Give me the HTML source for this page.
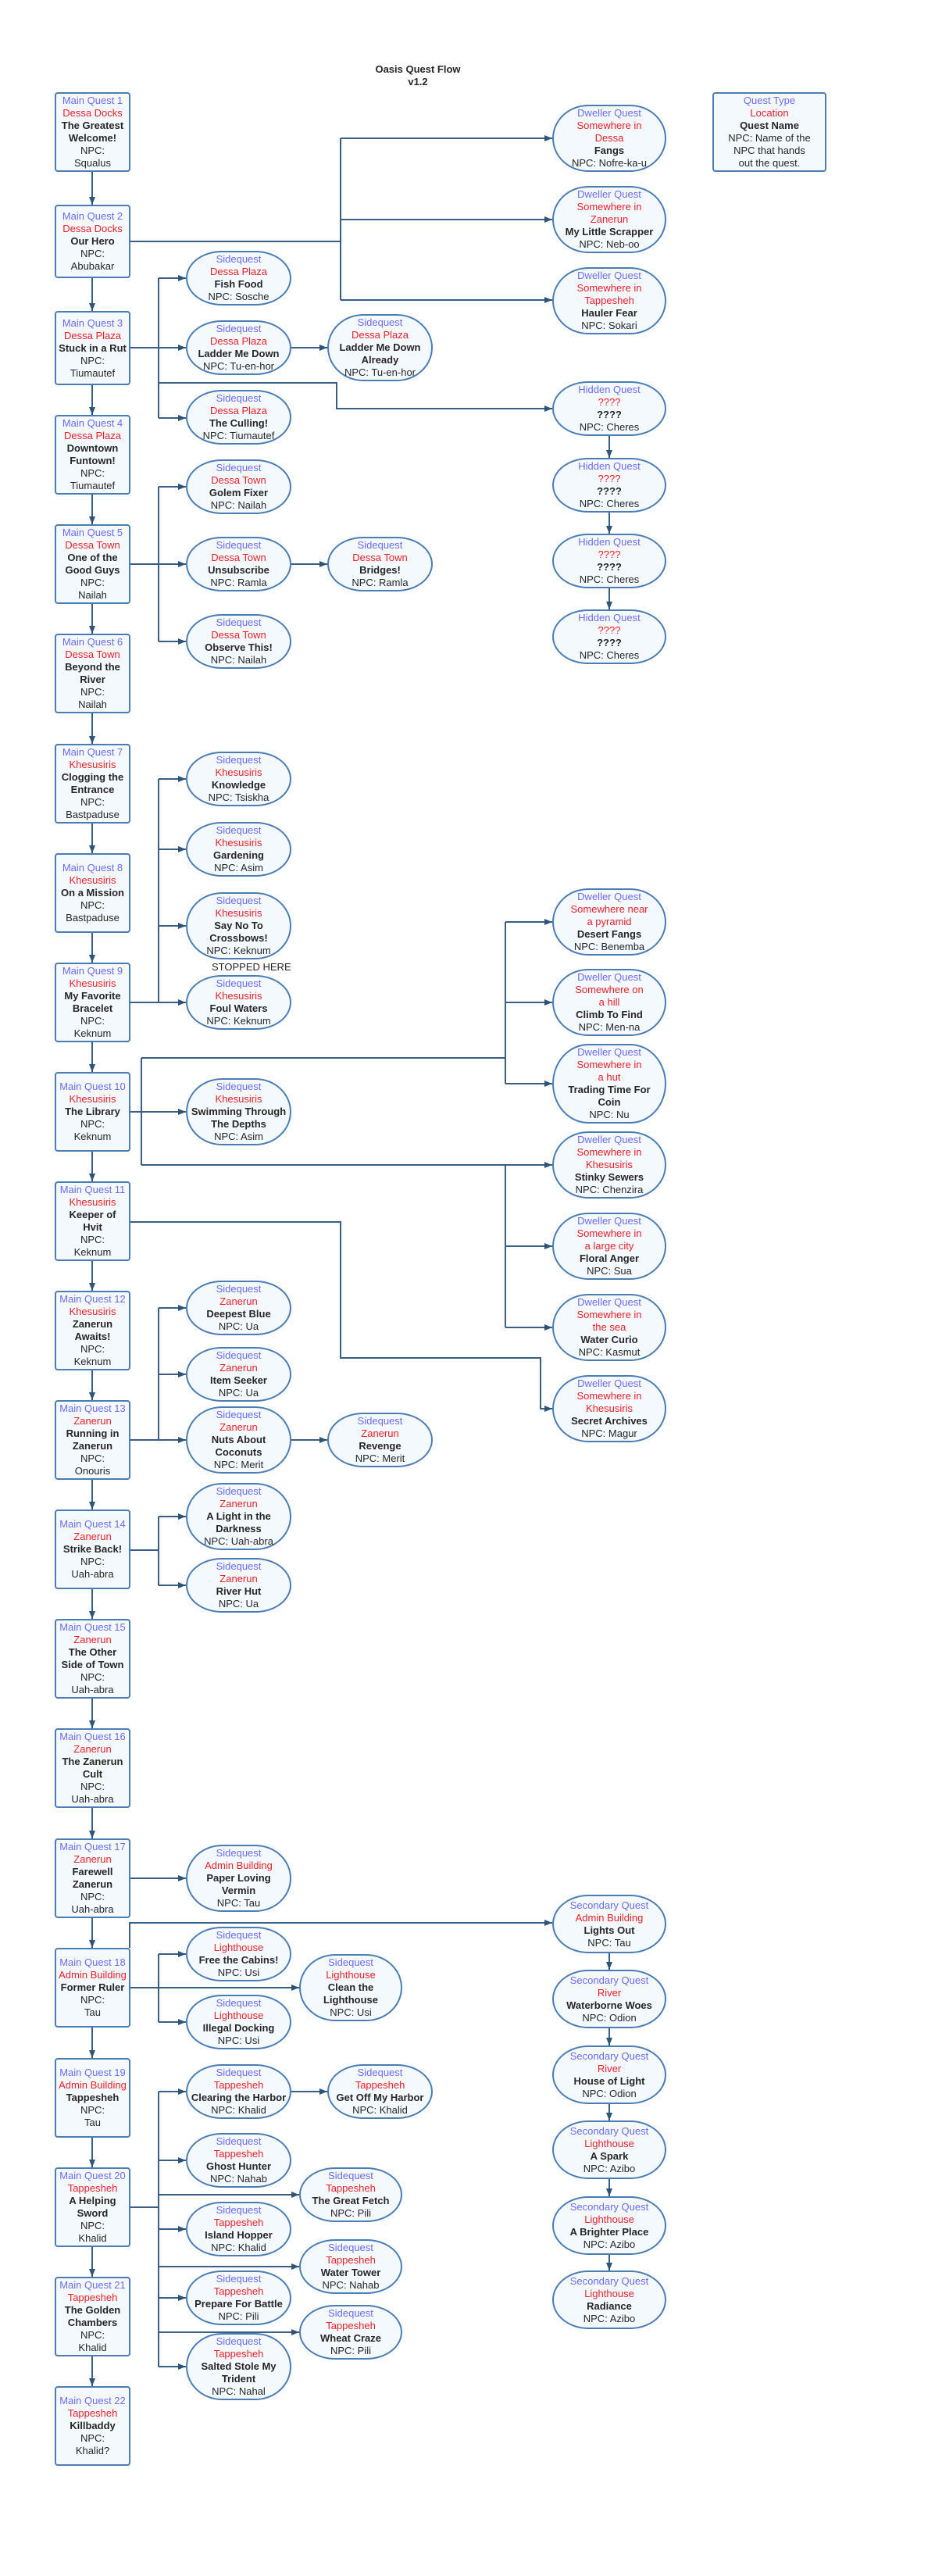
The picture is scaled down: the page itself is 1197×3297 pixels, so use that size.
<!DOCTYPE html>
<html><head><meta charset="utf-8"><style>
html,body{margin:0;padding:0;background:#fff;}
body{width:1197px;height:3297px;position:relative;overflow:hidden;font-family:"Liberation Sans",Arial,sans-serif;font-size:13px;line-height:16px;color:#262626;}
.n{position:absolute;box-sizing:border-box;border:2px solid #4b7db5;background:#f4f9fe;display:flex;flex-direction:column;justify-content:center;align-items:center;text-align:center;white-space:nowrap;}
.m{left:70px;width:97px;border-radius:4px;}
.e{border-radius:46px/50%;}
.c1{left:238px;width:135px;}
.c2{left:419px;width:135px;}
.c15{left:383px;width:132px;}
.cr{left:707px;width:146px;}
.b{color:#6b6bff;}
.r{color:#e8202a;}
.k{font-weight:bold;color:#262626;}
svg{position:absolute;left:0;top:0;}
.t{position:absolute;text-align:center;font-weight:bold;}
</style></head><body>
<svg width="1197" height="3297" viewBox="0 0 1197 3297">
<defs><marker id="a" markerWidth="10" markerHeight="8" refX="10" refY="4" orient="auto" markerUnits="userSpaceOnUse"><path d="M0,0 L10,4 L0,8 z" fill="#2e5478"/></marker></defs>
<g fill="none" stroke="#3a5e84" stroke-width="2">
<!-- main verticals -->
<path d="M118,220V262" marker-end="url(#a)"/>
<path d="M118,356V398" marker-end="url(#a)"/>
<path d="M118,493V531" marker-end="url(#a)"/>
<path d="M118,633V671" marker-end="url(#a)"/>
<path d="M118,773V811" marker-end="url(#a)"/>
<path d="M118,913V952" marker-end="url(#a)"/>
<path d="M118,1054V1092" marker-end="url(#a)"/>
<path d="M118,1194V1232" marker-end="url(#a)"/>
<path d="M118,1334V1372" marker-end="url(#a)"/>
<path d="M118,1474V1512" marker-end="url(#a)"/>
<path d="M118,1614V1652" marker-end="url(#a)"/>
<path d="M118,1754V1792" marker-end="url(#a)"/>
<path d="M118,1894V1932" marker-end="url(#a)"/>
<path d="M118,2034V2072" marker-end="url(#a)"/>
<path d="M118,2174V2212" marker-end="url(#a)"/>
<path d="M118,2314V2353" marker-end="url(#a)"/>
<path d="M118,2455V2493" marker-end="url(#a)"/>
<path d="M118,2595V2634" marker-end="url(#a)"/>
<path d="M118,2736V2774" marker-end="url(#a)"/>
<path d="M118,2876V2914" marker-end="url(#a)"/>
<path d="M118,3016V3054" marker-end="url(#a)"/>
<!-- MQ2 -->
<path d="M167,309H436"/><path d="M436,177V384"/>
<path d="M436,177H707" marker-end="url(#a)"/>
<path d="M436,281H707" marker-end="url(#a)"/>
<path d="M436,384H707" marker-end="url(#a)"/>
<!-- MQ3 -->
<path d="M167,445H203"/><path d="M203,356V535"/>
<path d="M203,356H238" marker-end="url(#a)"/>
<path d="M203,445H238" marker-end="url(#a)"/>
<path d="M203,535H238" marker-end="url(#a)"/>
<path d="M373,445H419" marker-end="url(#a)"/>
<path d="M203,490H431V523H707" marker-end="url(#a)"/>
<!-- hidden chain -->
<path d="M780,558V586" marker-end="url(#a)"/>
<path d="M780,656V683" marker-end="url(#a)"/>
<path d="M780,753V780" marker-end="url(#a)"/>
<!-- MQ5 -->
<path d="M167,722H203"/><path d="M203,623V821"/>
<path d="M203,623H238" marker-end="url(#a)"/>
<path d="M203,722H238" marker-end="url(#a)"/>
<path d="M203,821H238" marker-end="url(#a)"/>
<path d="M373,722H419" marker-end="url(#a)"/>
<!-- MQ9 -->
<path d="M167,1283H203"/><path d="M203,997V1283"/>
<path d="M203,997H238" marker-end="url(#a)"/>
<path d="M203,1087H238" marker-end="url(#a)"/>
<path d="M203,1185H238" marker-end="url(#a)"/>
<path d="M203,1283H238" marker-end="url(#a)"/>
<!-- MQ10 -->
<path d="M167,1423H181"/><path d="M181,1354V1491"/>
<path d="M181,1423H238" marker-end="url(#a)"/>
<path d="M181,1354H647"/><path d="M647,1180V1387"/>
<path d="M647,1180H707" marker-end="url(#a)"/>
<path d="M647,1283H707" marker-end="url(#a)"/>
<path d="M647,1387H707" marker-end="url(#a)"/>
<path d="M181,1491H707" marker-end="url(#a)"/>
<path d="M647,1491V1699"/>
<path d="M647,1595H707" marker-end="url(#a)"/>
<path d="M647,1699H707" marker-end="url(#a)"/>
<!-- MQ11 -->
<path d="M167,1564H436V1738H692V1803H707" marker-end="url(#a)"/>
<!-- MQ13 -->
<path d="M167,1843H238" marker-end="url(#a)"/><path d="M203,1674V1843"/>
<path d="M203,1674H238" marker-end="url(#a)"/>
<path d="M203,1759H238" marker-end="url(#a)"/>
<path d="M373,1843H419" marker-end="url(#a)"/>
<!-- MQ14 -->
<path d="M167,1984H203"/><path d="M203,1941V2029"/>
<path d="M203,1941H238" marker-end="url(#a)"/>
<path d="M203,2029H238" marker-end="url(#a)"/>
<!-- MQ17 -->
<path d="M167,2404H238" marker-end="url(#a)"/>
<!-- MQ18 -->
<path d="M166,2493V2461H707" marker-end="url(#a)"/>
<path d="M167,2544H383" marker-end="url(#a)"/>
<path d="M203,2501V2588"/>
<path d="M203,2501H238" marker-end="url(#a)"/>
<path d="M203,2588H238" marker-end="url(#a)"/>
<!-- secondary chain -->
<path d="M780,2500V2521" marker-end="url(#a)"/>
<path d="M780,2596V2618" marker-end="url(#a)"/>
<path d="M780,2693V2714" marker-end="url(#a)"/>
<path d="M780,2789V2811" marker-end="url(#a)"/>
<path d="M780,2886V2906" marker-end="url(#a)"/>
<!-- MQ20 -->
<path d="M167,2825H203"/><path d="M203,2677V3029"/>
<path d="M203,2677H238" marker-end="url(#a)"/>
<path d="M203,2765H238" marker-end="url(#a)"/>
<path d="M203,2853H238" marker-end="url(#a)"/>
<path d="M203,2941H238" marker-end="url(#a)"/>
<path d="M203,3029H238" marker-end="url(#a)"/>
<path d="M203,2809H383" marker-end="url(#a)"/>
<path d="M203,2901H383" marker-end="url(#a)"/>
<path d="M203,2985H383" marker-end="url(#a)"/>
<path d="M373,2677H419" marker-end="url(#a)"/>
</g></svg>

<div class="t" style="left:435px;top:81px;width:200px;">Oasis Quest Flow<br>v1.2</div>
<div style="position:absolute;left:271px;top:1230px;">STOPPED HERE</div>

<div class="n" style="left:912px;top:118px;width:146px;height:102px;border-radius:4px;"><span class="b">Quest Type</span><span class="r">Location</span><span class="k">Quest Name</span><span>NPC: Name of the</span><span>NPC that hands</span><span>out the quest.</span></div>

<!-- main quests -->
<div class="n m" style="top:118px;height:102px;"><span class="b">Main Quest 1</span><span class="r">Dessa Docks</span><span class="k">The Greatest</span><span class="k">Welcome!</span><span>NPC:</span><span>Squalus</span></div>
<div class="n m" style="top:262px;height:94px;"><span class="b">Main Quest 2</span><span class="r">Dessa Docks</span><span class="k">Our Hero</span><span>NPC:</span><span>Abubakar</span></div>
<div class="n m" style="top:398px;height:95px;"><span class="b">Main Quest 3</span><span class="r">Dessa Plaza</span><span class="k">Stuck in a Rut</span><span>NPC:</span><span>Tiumautef</span></div>
<div class="n m" style="top:531px;height:102px;"><span class="b">Main Quest 4</span><span class="r">Dessa Plaza</span><span class="k">Downtown</span><span class="k">Funtown!</span><span>NPC:</span><span>Tiumautef</span></div>
<div class="n m" style="top:671px;height:102px;"><span class="b">Main Quest 5</span><span class="r">Dessa Town</span><span class="k">One of the</span><span class="k">Good Guys</span><span>NPC:</span><span>Nailah</span></div>
<div class="n m" style="top:811px;height:102px;"><span class="b">Main Quest 6</span><span class="r">Dessa Town</span><span class="k">Beyond the</span><span class="k">River</span><span>NPC:</span><span>Nailah</span></div>
<div class="n m" style="top:952px;height:102px;"><span class="b">Main Quest 7</span><span class="r">Khesusiris</span><span class="k">Clogging the</span><span class="k">Entrance</span><span>NPC:</span><span>Bastpaduse</span></div>
<div class="n m" style="top:1092px;height:102px;"><span class="b">Main Quest 8</span><span class="r">Khesusiris</span><span class="k">On a Mission</span><span>NPC:</span><span>Bastpaduse</span></div>
<div class="n m" style="top:1232px;height:102px;"><span class="b">Main Quest 9</span><span class="r">Khesusiris</span><span class="k">My Favorite</span><span class="k">Bracelet</span><span>NPC:</span><span>Keknum</span></div>
<div class="n m" style="top:1372px;height:102px;"><span class="b">Main Quest 10</span><span class="r">Khesusiris</span><span class="k">The Library</span><span>NPC:</span><span>Keknum</span></div>
<div class="n m" style="top:1512px;height:102px;"><span class="b">Main Quest 11</span><span class="r">Khesusiris</span><span class="k">Keeper of</span><span class="k">Hvit</span><span>NPC:</span><span>Keknum</span></div>
<div class="n m" style="top:1652px;height:102px;"><span class="b">Main Quest 12</span><span class="r">Khesusiris</span><span class="k">Zanerun</span><span class="k">Awaits!</span><span>NPC:</span><span>Keknum</span></div>
<div class="n m" style="top:1792px;height:102px;"><span class="b">Main Quest 13</span><span class="r">Zanerun</span><span class="k">Running in</span><span class="k">Zanerun</span><span>NPC:</span><span>Onouris</span></div>
<div class="n m" style="top:1932px;height:102px;"><span class="b">Main Quest 14</span><span class="r">Zanerun</span><span class="k">Strike Back!</span><span>NPC:</span><span>Uah-abra</span></div>
<div class="n m" style="top:2072px;height:102px;"><span class="b">Main Quest 15</span><span class="r">Zanerun</span><span class="k">The Other</span><span class="k">Side of Town</span><span>NPC:</span><span>Uah-abra</span></div>
<div class="n m" style="top:2212px;height:102px;"><span class="b">Main Quest 16</span><span class="r">Zanerun</span><span class="k">The Zanerun</span><span class="k">Cult</span><span>NPC:</span><span>Uah-abra</span></div>
<div class="n m" style="top:2353px;height:102px;"><span class="b">Main Quest 17</span><span class="r">Zanerun</span><span class="k">Farewell</span><span class="k">Zanerun</span><span>NPC:</span><span>Uah-abra</span></div>
<div class="n m" style="top:2493px;height:102px;"><span class="b">Main Quest 18</span><span class="r">Admin Building</span><span class="k">Former Ruler</span><span>NPC:</span><span>Tau</span></div>
<div class="n m" style="top:2634px;height:102px;"><span class="b">Main Quest 19</span><span class="r">Admin Building</span><span class="k">Tappesheh</span><span>NPC:</span><span>Tau</span></div>
<div class="n m" style="top:2774px;height:102px;"><span class="b">Main Quest 20</span><span class="r">Tappesheh</span><span class="k">A Helping</span><span class="k">Sword</span><span>NPC:</span><span>Khalid</span></div>
<div class="n m" style="top:2914px;height:102px;"><span class="b">Main Quest 21</span><span class="r">Tappesheh</span><span class="k">The Golden</span><span class="k">Chambers</span><span>NPC:</span><span>Khalid</span></div>
<div class="n m" style="top:3054px;height:102px;"><span class="b">Main Quest 22</span><span class="r">Tappesheh</span><span class="k">Killbaddy</span><span>NPC:</span><span>Khalid?</span></div>

<!-- sidequests col1 -->
<div class="n e c1" style="top:321px;height:70px;"><span class="b">Sidequest</span><span class="r">Dessa Plaza</span><span class="k">Fish Food</span><span>NPC: Sosche</span></div>
<div class="n e c1" style="top:410px;height:70px;"><span class="b">Sidequest</span><span class="r">Dessa Plaza</span><span class="k">Ladder Me Down</span><span>NPC: Tu-en-hor</span></div>
<div class="n e c1" style="top:499px;height:70px;"><span class="b">Sidequest</span><span class="r">Dessa Plaza</span><span class="k">The Culling!</span><span>NPC: Tiumautef</span></div>
<div class="n e c1" style="top:588px;height:70px;"><span class="b">Sidequest</span><span class="r">Dessa Town</span><span class="k">Golem Fixer</span><span>NPC: Nailah</span></div>
<div class="n e c1" style="top:687px;height:70px;"><span class="b">Sidequest</span><span class="r">Dessa Town</span><span class="k">Unsubscribe</span><span>NPC: Ramla</span></div>
<div class="n e c1" style="top:786px;height:70px;"><span class="b">Sidequest</span><span class="r">Dessa Town</span><span class="k">Observe This!</span><span>NPC: Nailah</span></div>
<div class="n e c1" style="top:962px;height:70px;"><span class="b">Sidequest</span><span class="r">Khesusiris</span><span class="k">Knowledge</span><span>NPC: Tsiskha</span></div>
<div class="n e c1" style="top:1052px;height:70px;"><span class="b">Sidequest</span><span class="r">Khesusiris</span><span class="k">Gardening</span><span>NPC: Asim</span></div>
<div class="n e c1" style="top:1142px;height:86px;"><span class="b">Sidequest</span><span class="r">Khesusiris</span><span class="k">Say No To</span><span class="k">Crossbows!</span><span>NPC: Keknum</span></div>
<div class="n e c1" style="top:1248px;height:70px;"><span class="b">Sidequest</span><span class="r">Khesusiris</span><span class="k">Foul Waters</span><span>NPC: Keknum</span></div>
<div class="n e c1" style="top:1380px;height:86px;"><span class="b">Sidequest</span><span class="r">Khesusiris</span><span class="k">Swimming Through</span><span class="k">The Depths</span><span>NPC: Asim</span></div>
<div class="n e c1" style="top:1639px;height:70px;"><span class="b">Sidequest</span><span class="r">Zanerun</span><span class="k">Deepest Blue</span><span>NPC: Ua</span></div>
<div class="n e c1" style="top:1724px;height:70px;"><span class="b">Sidequest</span><span class="r">Zanerun</span><span class="k">Item Seeker</span><span>NPC: Ua</span></div>
<div class="n e c1" style="top:1800px;height:86px;"><span class="b">Sidequest</span><span class="r">Zanerun</span><span class="k">Nuts About</span><span class="k">Coconuts</span><span>NPC: Merit</span></div>
<div class="n e c1" style="top:1898px;height:86px;"><span class="b">Sidequest</span><span class="r">Zanerun</span><span class="k">A Light in the</span><span class="k">Darkness</span><span>NPC: Uah-abra</span></div>
<div class="n e c1" style="top:1994px;height:70px;"><span class="b">Sidequest</span><span class="r">Zanerun</span><span class="k">River Hut</span><span>NPC: Ua</span></div>
<div class="n e c1" style="top:2361px;height:86px;"><span class="b">Sidequest</span><span class="r">Admin Building</span><span class="k">Paper Loving</span><span class="k">Vermin</span><span>NPC: Tau</span></div>
<div class="n e c1" style="top:2466px;height:70px;"><span class="b">Sidequest</span><span class="r">Lighthouse</span><span class="k">Free the Cabins!</span><span>NPC: Usi</span></div>
<div class="n e c1" style="top:2553px;height:70px;"><span class="b">Sidequest</span><span class="r">Lighthouse</span><span class="k">Illegal Docking</span><span>NPC: Usi</span></div>
<div class="n e c1" style="top:2642px;height:70px;"><span class="b">Sidequest</span><span class="r">Tappesheh</span><span class="k">Clearing the Harbor</span><span>NPC: Khalid</span></div>
<div class="n e c1" style="top:2730px;height:70px;"><span class="b">Sidequest</span><span class="r">Tappesheh</span><span class="k">Ghost Hunter</span><span>NPC: Nahab</span></div>
<div class="n e c1" style="top:2818px;height:70px;"><span class="b">Sidequest</span><span class="r">Tappesheh</span><span class="k">Island Hopper</span><span>NPC: Khalid</span></div>
<div class="n e c1" style="top:2906px;height:70px;"><span class="b">Sidequest</span><span class="r">Tappesheh</span><span class="k">Prepare For Battle</span><span>NPC: Pili</span></div>
<div class="n e c1" style="top:2986px;height:86px;"><span class="b">Sidequest</span><span class="r">Tappesheh</span><span class="k">Salted Stole My</span><span class="k">Trident</span><span>NPC: Nahal</span></div>

<!-- col2 -->
<div class="n e c2" style="top:402px;height:86px;"><span class="b">Sidequest</span><span class="r">Dessa Plaza</span><span class="k">Ladder Me Down</span><span class="k">Already</span><span>NPC: Tu-en-hor</span></div>
<div class="n e c2" style="top:687px;height:70px;"><span class="b">Sidequest</span><span class="r">Dessa Town</span><span class="k">Bridges!</span><span>NPC: Ramla</span></div>
<div class="n e c2" style="top:1808px;height:70px;"><span class="b">Sidequest</span><span class="r">Zanerun</span><span class="k">Revenge</span><span>NPC: Merit</span></div>
<div class="n e c2" style="top:2642px;height:70px;"><span class="b">Sidequest</span><span class="r">Tappesheh</span><span class="k">Get Off My Harbor</span><span>NPC: Khalid</span></div>

<!-- col1.5 -->
<div class="n e c15" style="top:2501px;height:86px;"><span class="b">Sidequest</span><span class="r">Lighthouse</span><span class="k">Clean the</span><span class="k">Lighthouse</span><span>NPC: Usi</span></div>
<div class="n e c15" style="top:2774px;height:70px;"><span class="b">Sidequest</span><span class="r">Tappesheh</span><span class="k">The Great Fetch</span><span>NPC: Pili</span></div>
<div class="n e c15" style="top:2866px;height:70px;"><span class="b">Sidequest</span><span class="r">Tappesheh</span><span class="k">Water Tower</span><span>NPC: Nahab</span></div>
<div class="n e c15" style="top:2950px;height:70px;"><span class="b">Sidequest</span><span class="r">Tappesheh</span><span class="k">Wheat Craze</span><span>NPC: Pili</span></div>

<!-- right col -->
<div class="n e cr" style="top:134px;height:86px;"><span class="b">Dweller Quest</span><span class="r">Somewhere in</span><span class="r">Dessa</span><span class="k">Fangs</span><span>NPC: Nofre-ka-u</span></div>
<div class="n e cr" style="top:238px;height:86px;"><span class="b">Dweller Quest</span><span class="r">Somewhere in</span><span class="r">Zanerun</span><span class="k">My Little Scrapper</span><span>NPC: Neb-oo</span></div>
<div class="n e cr" style="top:342px;height:86px;"><span class="b">Dweller Quest</span><span class="r">Somewhere in</span><span class="r">Tappesheh</span><span class="k">Hauler Fear</span><span>NPC: Sokari</span></div>
<div class="n e cr" style="top:488px;height:70px;"><span class="b">Hidden Quest</span><span class="r">????</span><span class="k">????</span><span>NPC: Cheres</span></div>
<div class="n e cr" style="top:586px;height:70px;"><span class="b">Hidden Quest</span><span class="r">????</span><span class="k">????</span><span>NPC: Cheres</span></div>
<div class="n e cr" style="top:683px;height:70px;"><span class="b">Hidden Quest</span><span class="r">????</span><span class="k">????</span><span>NPC: Cheres</span></div>
<div class="n e cr" style="top:780px;height:70px;"><span class="b">Hidden Quest</span><span class="r">????</span><span class="k">????</span><span>NPC: Cheres</span></div>
<div class="n e cr" style="top:1137px;height:86px;"><span class="b">Dweller Quest</span><span class="r">Somewhere near</span><span class="r">a pyramid</span><span class="k">Desert Fangs</span><span>NPC: Benemba</span></div>
<div class="n e cr" style="top:1240px;height:86px;"><span class="b">Dweller Quest</span><span class="r">Somewhere on</span><span class="r">a hill</span><span class="k">Climb To Find</span><span>NPC: Men-na</span></div>
<div class="n e cr" style="top:1336px;height:102px;"><span class="b">Dweller Quest</span><span class="r">Somewhere in</span><span class="r">a hut</span><span class="k">Trading Time For</span><span class="k">Coin</span><span>NPC: Nu</span></div>
<div class="n e cr" style="top:1448px;height:86px;"><span class="b">Dweller Quest</span><span class="r">Somewhere in</span><span class="r">Khesusiris</span><span class="k">Stinky Sewers</span><span>NPC: Chenzira</span></div>
<div class="n e cr" style="top:1552px;height:86px;"><span class="b">Dweller Quest</span><span class="r">Somewhere in</span><span class="r">a large city</span><span class="k">Floral Anger</span><span>NPC: Sua</span></div>
<div class="n e cr" style="top:1656px;height:86px;"><span class="b">Dweller Quest</span><span class="r">Somewhere in</span><span class="r">the sea</span><span class="k">Water Curio</span><span>NPC: Kasmut</span></div>
<div class="n e cr" style="top:1760px;height:86px;"><span class="b">Dweller Quest</span><span class="r">Somewhere in</span><span class="r">Khesusiris</span><span class="k">Secret Archives</span><span>NPC: Magur</span></div>

<div class="n e cr" style="top:2425px;height:75px;"><span class="b">Secondary Quest</span><span class="r">Admin Building</span><span class="k">Lights Out</span><span>NPC: Tau</span></div>
<div class="n e cr" style="top:2521px;height:75px;"><span class="b">Secondary Quest</span><span class="r">River</span><span class="k">Waterborne Woes</span><span>NPC: Odion</span></div>
<div class="n e cr" style="top:2618px;height:75px;"><span class="b">Secondary Quest</span><span class="r">River</span><span class="k">House of Light</span><span>NPC: Odion</span></div>
<div class="n e cr" style="top:2714px;height:75px;"><span class="b">Secondary Quest</span><span class="r">Lighthouse</span><span class="k">A Spark</span><span>NPC: Azibo</span></div>
<div class="n e cr" style="top:2811px;height:75px;"><span class="b">Secondary Quest</span><span class="r">Lighthouse</span><span class="k">A Brighter Place</span><span>NPC: Azibo</span></div>
<div class="n e cr" style="top:2906px;height:75px;"><span class="b">Secondary Quest</span><span class="r">Lighthouse</span><span class="k">Radiance</span><span>NPC: Azibo</span></div>
</body></html>
